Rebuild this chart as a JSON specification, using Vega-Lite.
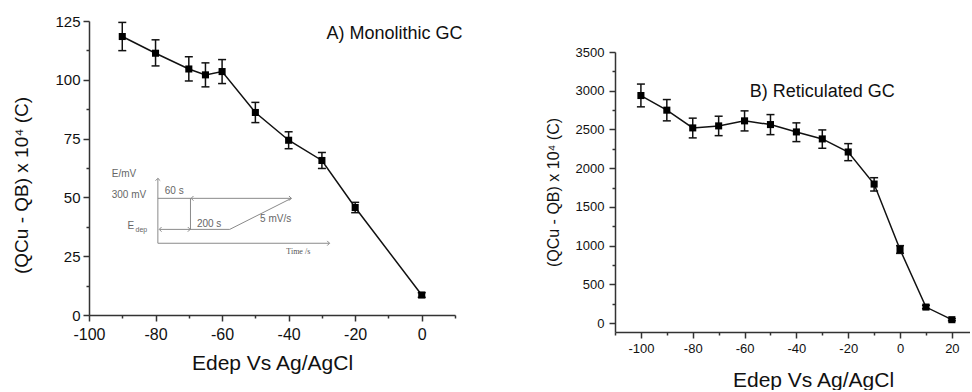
{
  "$schema": "https://vega.github.io/schema/vega-lite/v6.json",
  "padding": {"left": 12, "top": 14, "right": 0, "bottom": 0},
  "spacing": 82,
  "config": {
    "view": {"stroke": null},
    "font": "Liberation Sans",
    "axis": {
      "domainColor": "#333333", "domainWidth": 1.5,
      "tickColor": "#333333", "tickWidth": 1.5,
      "labelColor": "#111111", "titleColor": "#111111",
      "grid": false, "labelFont": "Liberation Sans", "titleFont": "Liberation Sans",
      "titleFontWeight": "normal", "labelFlush": false, "labelOverlap": false
    }
  },
  "datasets": {
    "mono": [
      {"E": -90, "Q": 118.4, "lo": 112.4, "hi": 124.4},
      {"E": -80, "Q": 111.3, "lo": 105.9, "hi": 117.0},
      {"E": -70, "Q": 104.6, "lo": 99.5, "hi": 109.8},
      {"E": -65, "Q": 102.1, "lo": 97.0, "hi": 107.2},
      {"E": -60, "Q": 103.5, "lo": 98.4, "hi": 108.6},
      {"E": -50, "Q": 86.1, "lo": 81.8, "hi": 90.4},
      {"E": -40, "Q": 74.3, "lo": 70.7, "hi": 77.9},
      {"E": -30, "Q": 65.7, "lo": 62.3, "hi": 69.1},
      {"E": -20, "Q": 45.7, "lo": 43.5, "hi": 47.9},
      {"E": 0, "Q": 8.5, "lo": 7.5, "hi": 9.5}
    ],
    "retic": [
      {"E": -100, "Q": 2938, "lo": 2792, "hi": 3086},
      {"E": -90, "Q": 2749, "lo": 2611, "hi": 2886},
      {"E": -80, "Q": 2520, "lo": 2391, "hi": 2646},
      {"E": -70, "Q": 2546, "lo": 2420, "hi": 2671},
      {"E": -60, "Q": 2611, "lo": 2481, "hi": 2740},
      {"E": -50, "Q": 2563, "lo": 2433, "hi": 2692},
      {"E": -40, "Q": 2468, "lo": 2343, "hi": 2585},
      {"E": -30, "Q": 2378, "lo": 2257, "hi": 2494},
      {"E": -20, "Q": 2209, "lo": 2097, "hi": 2317},
      {"E": -10, "Q": 1795, "lo": 1705, "hi": 1877},
      {"E": 0, "Q": 950, "lo": 900, "hi": 1000},
      {"E": 10, "Q": 207, "lo": 185, "hi": 230},
      {"E": 20, "Q": 44, "lo": 30, "hi": 58}
    ],
    "inset_lines": [
      {"E": -79.3, "Q": 30.5, "E2": -79.3, "Q2": 58.1},
      {"E": -79.3, "Q": 30.5, "E2": -27.7, "Q2": 30.5},
      {"E": -79.3, "Q": 49.6, "E2": -39.2, "Q2": 49.6},
      {"E": -69.5, "Q": 49.6, "E2": -69.5, "Q2": 36.4},
      {"E": -78.8, "Q": 36.4, "E2": -57.7, "Q2": 36.4},
      {"E": -57.7, "Q": 36.4, "E2": -39.2, "Q2": 49.6}
    ],
    "inset_arrows": [
      {"E": -79.3, "Q": 58.1, "dir": "up"},
      {"E": -27.7, "Q": 30.5, "dir": "right"},
      {"E": -69.3, "Q": 49.6, "dir": "left"},
      {"E": -39.2, "Q": 49.6, "dir": "right"},
      {"E": -78.9, "Q": 36.4, "dir": "left"},
      {"E": -69.6, "Q": 36.4, "dir": "right"}
    ],
    "inset_text": [
      {"E": -89.5, "Q": 59.9, "label": "E/mV"},
      {"E": -88.0, "Q": 51.0, "label": "300 mV"},
      {"E": -74.4, "Q": 52.9, "label": "60 s"},
      {"E": -63.9, "Q": 38.7, "label": "200 s"},
      {"E": -43.9, "Q": 40.7, "label": "5 mV/s"}
    ],
    "inset_edep": [
      {"E": -88.4, "Q": 38.0, "label": "E", "part": "main"},
      {"E": -86.0, "Q": 36.2, "label": "dep", "part": "sub"}
    ],
    "inset_time": [
      {"E": -37.1, "Q": 26.9, "label": "Time /s"}
    ],
    "label_a": [{"E": -8.2, "Q": 119.5, "label": "A) Monolithic GC"}],
    "label_b": [{"E": -30, "Q": 2986, "label": "B) Reticulated GC"}],
    "spacer": [{"k": 1}]
  },
  "hconcat": [
    {
      "width": 366,
      "height": 294,
      "layer": [
        {
          "data": {"name": "inset_lines"},
          "mark": {"type": "rule", "color": "#8a8a8a", "strokeWidth": 1},
          "encoding": {
            "x": {"field": "E", "type": "quantitative",
              "scale": {"domain": [-100, 10], "nice": false, "zero": false},
              "axis": {
                "values": [-100, -90, -80, -70, -60, -50, -40, -30, -20, -10, 0, 10],
                "tickCount": 100,
                "labelExpr": "datum.value % 20 === 0 ? '' + datum.value : ''",
                "tickSize": {"condition": {"test": "datum.value % 20 === 0", "value": 6}, "value": 3},
                "labelFontSize": 16, "labelPadding": 5, "labelOverlap": false,
                "title": "Edep Vs Ag/AgCl", "titleFontSize": 21, "titlePadding": 10
              }},
            "y": {"field": "Q", "type": "quantitative",
              "scale": {"domain": [0, 125], "nice": false, "zero": false},
              "axis": {
                "values": [0, 12.5, 25, 37.5, 50, 62.5, 75, 87.5, 100, 112.5, 125],
                "tickCount": 100,
                "labelExpr": "datum.value % 25 === 0 ? '' + datum.value : ''",
                "tickSize": {"condition": {"test": "datum.value % 25 === 0", "value": 6}, "value": 3},
                "labelFontSize": 15, "labelPadding": 3, "labelOverlap": false,
                "title": "(QCu - QB) x 10⁴ (C)", "titleFontSize": 19, "titlePadding": 23, "titleY": 164
              }},
            "x2": {"field": "E2"},
            "y2": {"field": "Q2"}
          }
        },
        {
          "data": {"name": "inset_arrows"},
          "mark": {"type": "point", "filled": false, "strokeWidth": 1, "size": 22, "opacity": 1},
          "encoding": {
            "x": {"field": "E", "type": "quantitative"},
            "y": {"field": "Q", "type": "quantitative"},
            "shape": {"field": "dir", "type": "nominal", "legend": null,
              "scale": {"domain": ["up", "right", "left"], "range": ["M-1,1L0,0L1,1", "M-1,-1L0,0L-1,1", "M1,-1L0,0L1,1"]}},
            "color": {"value": "#8a8a8a"}
          }
        },
        {
          "data": {"name": "inset_text"},
          "mark": {"type": "text", "fontSize": 10, "color": "#666666", "align": "center", "baseline": "middle", "font": "Liberation Sans"},
          "encoding": {
            "x": {"field": "E", "type": "quantitative"},
            "y": {"field": "Q", "type": "quantitative"},
            "text": {"field": "label"}
          }
        },
        {
          "data": {"name": "inset_edep"},
          "transform": [{"filter": "datum.part === 'main'"}],
          "mark": {"type": "text", "fontSize": 10, "color": "#666666", "align": "left", "baseline": "middle"},
          "encoding": {
            "x": {"field": "E", "type": "quantitative"},
            "y": {"field": "Q", "type": "quantitative"},
            "text": {"field": "label"}
          }
        },
        {
          "data": {"name": "inset_edep"},
          "transform": [{"filter": "datum.part === 'sub'"}],
          "mark": {"type": "text", "fontSize": 7, "color": "#666666", "align": "left", "baseline": "middle"},
          "encoding": {
            "x": {"field": "E", "type": "quantitative"},
            "y": {"field": "Q", "type": "quantitative"},
            "text": {"field": "label"}
          }
        },
        {
          "data": {"name": "inset_time"},
          "mark": {"type": "text", "fontSize": 8, "color": "#555555", "align": "center", "baseline": "middle", "font": "Liberation Serif"},
          "encoding": {
            "x": {"field": "E", "type": "quantitative"},
            "y": {"field": "Q", "type": "quantitative"},
            "text": {"field": "label"}
          }
        },
        {
          "data": {"name": "mono"},
          "mark": {"type": "rule", "color": "#111111", "strokeWidth": 1.5},
          "encoding": {
            "x": {"field": "E", "type": "quantitative"},
            "y": {"field": "lo", "type": "quantitative"},
            "y2": {"field": "hi"}
          }
        },
        {
          "data": {"name": "mono"},
          "mark": {"type": "tick", "orient": "horizontal", "size": 8, "thickness": 1.5, "color": "#111111", "opacity": 1},
          "encoding": {
            "x": {"field": "E", "type": "quantitative"},
            "y": {"field": "lo", "type": "quantitative"}
          }
        },
        {
          "data": {"name": "mono"},
          "mark": {"type": "tick", "orient": "horizontal", "size": 8, "thickness": 1.5, "color": "#111111", "opacity": 1},
          "encoding": {
            "x": {"field": "E", "type": "quantitative"},
            "y": {"field": "hi", "type": "quantitative"}
          }
        },
        {
          "data": {"name": "mono"},
          "mark": {"type": "line", "color": "#111111", "strokeWidth": 1.5},
          "encoding": {
            "x": {"field": "E", "type": "quantitative"},
            "y": {"field": "Q", "type": "quantitative"}
          }
        },
        {
          "data": {"name": "mono"},
          "mark": {"type": "point", "shape": "square", "filled": true, "size": 50, "color": "#000000", "opacity": 1},
          "encoding": {
            "x": {"field": "E", "type": "quantitative"},
            "y": {"field": "Q", "type": "quantitative"}
          }
        },
        {
          "data": {"name": "label_a"},
          "mark": {"type": "text", "fontSize": 18, "color": "#111111", "align": "center", "baseline": "middle"},
          "encoding": {
            "x": {"field": "E", "type": "quantitative"},
            "y": {"field": "Q", "type": "quantitative"},
            "text": {"field": "label"}
          }
        }
      ]
    },
    {
      "spacing": 0,
      "vconcat": [
        {
          "width": 355,
          "height": 25,
          "data": {"name": "spacer"},
          "mark": {"type": "point", "opacity": 0},
          "encoding": {}
        },
        {
          "width": 355,
          "height": 280,
          "layer": [
            {
              "data": {"name": "retic"},
              "mark": {"type": "rule", "color": "#111111", "strokeWidth": 1.5},
              "encoding": {
                "x": {"field": "E", "type": "quantitative",
                  "scale": {"domain": [-110, 27], "nice": false, "zero": false},
                  "axis": {
                    "values": [-110, -100, -90, -80, -70, -60, -50, -40, -30, -20, -10, 0, 10, 20],
                    "tickCount": 100,
                    "labelExpr": "datum.value % 20 === 0 ? '' + datum.value : ''",
                    "tickSize": {"condition": {"test": "datum.value % 20 === 0", "value": 6}, "value": 3},
                    "labelFontSize": 13, "labelPadding": 4, "labelOverlap": false,
                    "title": "Edep Vs Ag/AgCl", "titleFontSize": 21, "titlePadding": 14, "titleX": 198
                  }},
                "y": {"field": "lo", "type": "quantitative",
                  "scale": {"domain": [-115, 3500], "nice": false, "zero": false},
                  "axis": {
                    "values": [0, 250, 500, 750, 1000, 1250, 1500, 1750, 2000, 2250, 2500, 2750, 3000, 3250, 3500],
                    "tickCount": 100,
                    "labelExpr": "datum.value % 500 === 0 ? '' + datum.value : ''",
                    "tickSize": {"condition": {"test": "datum.value % 500 === 0", "value": 6}, "value": 3},
                    "labelFontSize": 13, "labelPadding": 5, "labelOverlap": false,
                    "title": "(QCu - QB) x 10⁴ (C)", "titleFontSize": 16, "titlePadding": 14
                  }},
                "y2": {"field": "hi"}
              }
            },
            {
              "data": {"name": "retic"},
              "mark": {"type": "tick", "orient": "horizontal", "size": 8, "thickness": 1.5, "color": "#111111", "opacity": 1},
              "encoding": {
                "x": {"field": "E", "type": "quantitative"},
                "y": {"field": "lo", "type": "quantitative"}
              }
            },
            {
              "data": {"name": "retic"},
              "mark": {"type": "tick", "orient": "horizontal", "size": 8, "thickness": 1.5, "color": "#111111", "opacity": 1},
              "encoding": {
                "x": {"field": "E", "type": "quantitative"},
                "y": {"field": "hi", "type": "quantitative"}
              }
            },
            {
              "data": {"name": "retic"},
              "mark": {"type": "line", "color": "#111111", "strokeWidth": 1.5},
              "encoding": {
                "x": {"field": "E", "type": "quantitative"},
                "y": {"field": "Q", "type": "quantitative"}
              }
            },
            {
              "data": {"name": "retic"},
              "mark": {"type": "point", "shape": "square", "filled": true, "size": 50, "color": "#000000", "opacity": 1},
              "encoding": {
                "x": {"field": "E", "type": "quantitative"},
                "y": {"field": "Q", "type": "quantitative"}
              }
            },
            {
              "data": {"name": "label_b"},
              "mark": {"type": "text", "fontSize": 18, "color": "#111111", "align": "center", "baseline": "middle"},
              "encoding": {
                "x": {"field": "E", "type": "quantitative"},
                "y": {"field": "Q", "type": "quantitative"},
                "text": {"field": "label"}
              }
            }
          ]
        }
      ]
    }
  ]
}
